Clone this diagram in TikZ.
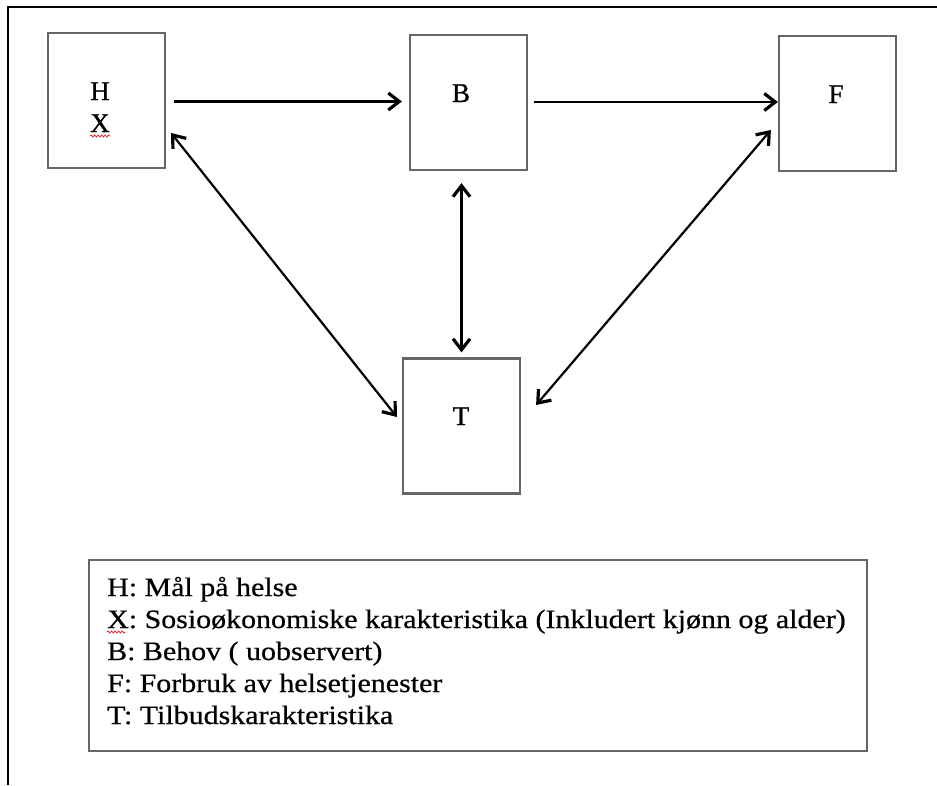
\documentclass[tikz,border=0pt]{standalone}
\usepackage{fontspec}
\setmainfont{Liberation Serif}
\newfontfamily\legfont[FakeStretch=1.13,FakeBold=0.6]{Liberation Serif}
\newfontfamily\labfont[FakeBold=0.8]{Liberation Serif}
\usetikzlibrary{arrows.meta,decorations.pathmorphing}
\definecolor{boxgray}{HTML}{666666}
\definecolor{spellred}{HTML}{E03030}
\tikzset{
  boxnode/.style={draw=boxgray, line width=2.2pt, minimum width=117pt, minimum height=135pt, inner sep=0pt},
  lab/.style={font=\labfont\fontsize{27}{32}\selectfont, inner sep=0pt, anchor=base},
  leg/.style={font=\legfont\fontsize{26.5}{32}\selectfont, inner sep=0pt, anchor=base west},
  legbox/.style={draw=boxgray, line width=2.2pt, minimum width=778pt, minimum height=191pt, inner sep=0pt},
  tipb/.tip={Straight Barb[length=11pt,width=17pt,line width=3.2pt]},
  arr/.style={-tipb, line width=2.2pt},
  biarr/.style={tipb-tipb, line width=2.2pt},
  squiggle/.style={draw=spellred, line width=0.9pt, decorate, decoration={snake, amplitude=1pt, segment length=3.5pt}}
}
\begin{document}
\begin{tikzpicture}[x=1pt,y=-1pt]
\useasboundingbox (0,0) rectangle (937,785);
\fill[white] (0,0) rectangle (937,785);
% outer frame (top and left edges)
\draw[line width=2.8pt] (8,785) -- (8,7) -- (937,7);
% boxes
\node[boxnode] (hbox) at (106.5,100.5) {};
\node[boxnode] (bbox) at (468.5,102.5) {};
\node[boxnode] (fbox) at (837.5,103.5) {};
\node[boxnode] (tbox) at (461.5,426) {};
% labels
\node[lab] (hlab) at (100,100) {H};
\node[lab] (xlab) at (100,132) {X};
\node[lab] (blab) at (461,102) {B};
\node[lab] (flab) at (836,103) {F};
\node[lab] (tlab) at (461,425) {T};
\draw[squiggle] (xlab.base west) ++(0,4) -- ++(20,0);
% connectors
\draw[arr, shorten <=8pt, shorten >=7pt] (hbox.east |- 0,101.5) -- (bbox.west |- 0,101.5);
\draw[arr, shorten <=6pt] (bbox.east |- 0,102) -- (fbox.west |- 0,102);
\draw[biarr] ([xshift=5pt,yshift=-32.5pt]hbox.east) -- ([xshift=-5pt,yshift=9pt]tbox.west);
\draw[biarr, shorten <=12pt, shorten >=5pt] (bbox.south -| tbox.north) -- (tbox.north);
\draw[biarr] ([xshift=-7pt,yshift=-26.5pt]fbox.west) -- ([xshift=15pt,yshift=21pt]tbox.east);
% legend
\node[legbox] (legend) at (478,655.5) {};
\node[leg] (l1) at (107,596) {H: Mål på helse};
\node[leg] (l2) at (107,628) {X: Sosioøkonomiske karakteristika (Inkludert kjønn og alder)};
\node[leg] (l3) at (107,660) {B: Behov ( uobservert)};
\node[leg] (l4) at (107,692) {F: Forbruk av helsetjenester};
\node[leg] (l5) at (107,724) {T: Tilbudskarakteristika};
\draw[squiggle] (l2.base west) ++(0,4) -- ++(18,0);
\end{tikzpicture}
\end{document}
